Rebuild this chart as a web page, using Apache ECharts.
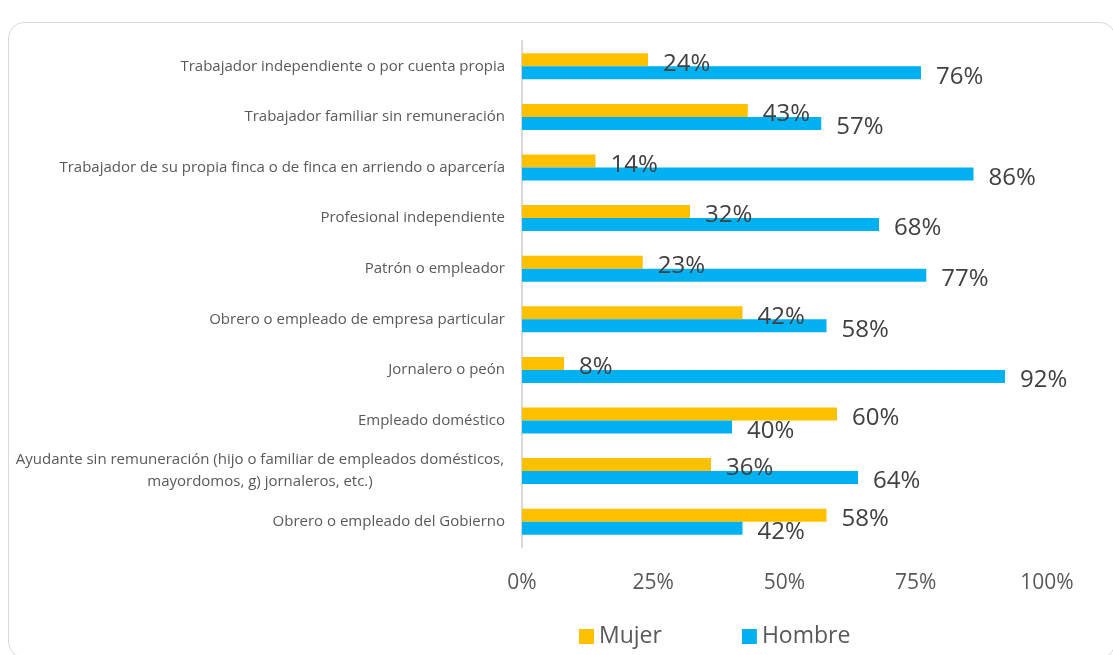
<!DOCTYPE html>
<html>
<head>
<meta charset="utf-8">
<script src="https://cdn.jsdelivr.net/npm/echarts@6/dist/echarts.min.js"></script>
<style>
  html, body { margin: 0; padding: 0; background: #fff; overflow: hidden; }
  #card {
    position: absolute; left: 8px; top: 22px; width: 1108px; height: 636px;
    border: 1px solid #d9d9d9; border-radius: 16px; box-sizing: border-box;
  }
  #chart { position: absolute; left: 0; top: 0; width: 1113px; height: 655px; }
</style>
</head>
<body>
<div id="card"></div>
<div id="chart"></div>
<script>
  // categorías de arriba hacia abajo
  const categories = [
    'Trabajador independiente o por cuenta propia',
    'Trabajador familiar sin remuneración',
    'Trabajador de su propia finca o de finca en arriendo o aparcería',
    'Profesional independiente',
    'Patrón o empleador',
    'Obrero o empleado de empresa particular',
    'Jornalero o peón',
    'Empleado doméstico',
    'Ayudante sin remuneración (hijo o familiar de empleados domésticos,\nmayordomos, g) jornaleros, etc.)',
    'Obrero o empleado del Gobierno'
  ]
  const mujer = [24, 43, 14, 32, 23, 42, 8, 60, 36, 58]
  const hombre = [76, 57, 86, 68, 77, 58, 92, 40, 64, 42]
  const xTicks = [0, 25, 50, 75, 100]

  const font = '"Open Sans", "Noto Sans", sans-serif'

  const labelStyle = {
    show: true,
    position: 'right',
    distance: 15,
    offset: [0, 4],
    fontSize: 24,
    fontFamily: font,
    color: '#404040',
    formatter: p => p.value + '%'
  }

  const myChart = echarts.init(document.getElementById('chart'))
  myChart.setOption({
    animation: false,
    grid: { left: 522, right: 66, top: 41, bottom: 108, containLabel: false },
    legend: {
      data: ['Mujer', 'Hombre'],
      bottom: 2,
      left: 574,
      itemWidth: 15,
      itemHeight: 15,
      itemGap: 80,
      icon: 'rect',
      textStyle: { fontSize: 23, color: '#595959', fontFamily: font }
    },
    xAxis: {
      type: 'value',
      min: xTicks[0],
      max: xTicks[xTicks.length - 1],
      interval: 25,
      axisLine: { show: false },
      axisTick: { show: false },
      splitLine: { show: false },
      axisLabel: {
        margin: 26,
        fontSize: 21,
        color: '#595959',
        fontFamily: font,
        formatter: '{value}%'
      }
    },
    yAxis: {
      type: 'category',
      inverse: true,
      data: categories,
      axisLine: { show: true, lineStyle: { color: '#d9d9d9', width: 2 } },
      axisTick: { show: false },
      axisLabel: {
        margin: 17,
        fontSize: 15,
        color: '#595959',
        fontFamily: font,
        lineHeight: 22,
        formatter: v => v.indexOf('\n') >= 0
          ? v.split('\n').map(s => '{c|' + s + '}').join('\n')
          : v,
        rich: {
          c: { width: 490, align: 'center', fontSize: 15, color: '#595959', fontFamily: font, lineHeight: 22 }
        }
      }
    },
    series: [
      {
        name: 'Mujer',
        type: 'bar',
        data: mujer,
        barWidth: 13,
        barGap: '0%',
        itemStyle: { color: '#FFC000' },
        label: labelStyle
      },
      {
        name: 'Hombre',
        type: 'bar',
        data: hombre,
        barWidth: 13,
        barGap: '0%',
        itemStyle: { color: '#00B0F0' },
        label: labelStyle
      }
    ]
  })
</script>
</body>
</html>
